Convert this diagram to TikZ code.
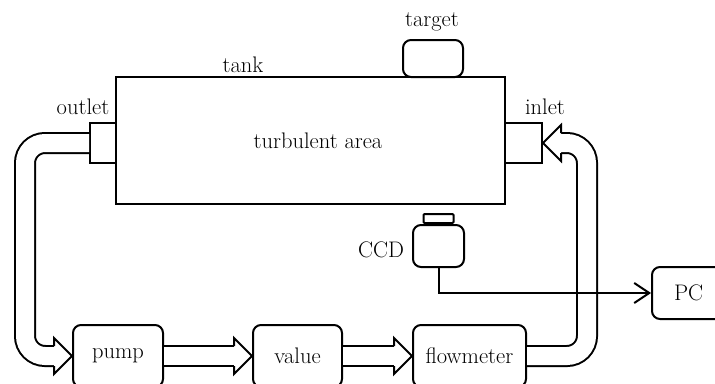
\documentclass[tikz,border=0pt]{standalone}
\usepackage{fontspec}
\usetikzlibrary{arrows.meta}
\newcommand\bigtxt{\fontsize{22.5}{27}\selectfont}
\begin{document}
\begin{tikzpicture}[x=1pt,y=-1pt,
  box/.style={draw, line width=2pt, rounded corners=8pt, inner sep=0pt, font=\bigtxt},
  sqbox/.style={draw, line width=2pt, inner sep=0pt},
  lbl/.style={inner sep=0pt, font=\bigtxt},
  pipe/.style={line width=2pt, double=white, double distance=18pt, rounded corners=20pt},
  headstyle/.style={line width=2pt, fill=white, line join=miter},
  bhead/.pic={\filldraw[headstyle] (-18,-10) -- (-18,-18) -- (0,0) -- (-18,18) -- (-18,10);},
  sig/.style={line width=2pt, -{Straight Barb[length=15pt,width=20pt,line width=2pt]}}
]
\useasboundingbox (0,0) rectangle (715,383);
\clip (0,0) rectangle (715,383);
% tank and ports
\node[sqbox, minimum width=389pt, minimum height=127pt] (tank) at (310.5,140.5) {};
\node[sqbox, minimum width=26pt, minimum height=40pt] (outlet) at (103,143) {};
\node[sqbox, minimum width=37pt, minimum height=40pt] (inlet) at (523.5,143) {};
\node[box, minimum width=60pt, minimum height=37pt] (target) at (433,58.5) {};
% CCD
\node[box, minimum width=51pt, minimum height=42pt] (ccd) at (438.5,246) {};
\node[sqbox, rounded corners=1pt, minimum width=30pt, minimum height=9pt, anchor=south] (tab) at (ccd.north) {};
% bottom row
\node[box, minimum width=90pt, minimum height=62pt] (pump) at (118,356) {pump};
\node[box, minimum width=89pt, minimum height=62pt] (value) at (297.5,356) {value};
\node[box, minimum width=113pt, minimum height=62pt] (flow) at (469.5,356) {flowmeter};
\node[box, minimum width=73pt, minimum height=52pt, text width=73pt, align=left] (pc) at (688.5,293) {\hspace*{22pt}PC};
% labels
\node[lbl] (ltank) at (243,65) {tank};
\node[lbl] (lturb) at (318,141) {turbulent area};
\node[lbl] (loutlet) at (83,107) {outlet};
\node[lbl] (linlet) at (545,107) {inlet};
\node[lbl] (ltarget) at (432,22) {target};
\node[lbl] (lccd) at (381,250) {CCD};
% pipes
\draw[pipe] (outlet.west) -- (25,143) -- (25,356) -- ([xshift=-18pt]pump.west);
\pic at (pump.west) {bhead};
\draw[pipe] (pump.east) -- ([xshift=-18pt]value.west);
\pic at (value.west) {bhead};
\draw[pipe] (value.east) -- ([xshift=-18pt]flow.west);
\pic at (flow.west) {bhead};
\draw[pipe] (flow.east) -- (587,356) -- (587,143) -- ([xshift=18pt]inlet.east);
\pic[rotate=180] at (inlet.east) {bhead};
% signal
\draw[sig] (ccd.south) |- (pc.west);
\end{tikzpicture}
\end{document}
